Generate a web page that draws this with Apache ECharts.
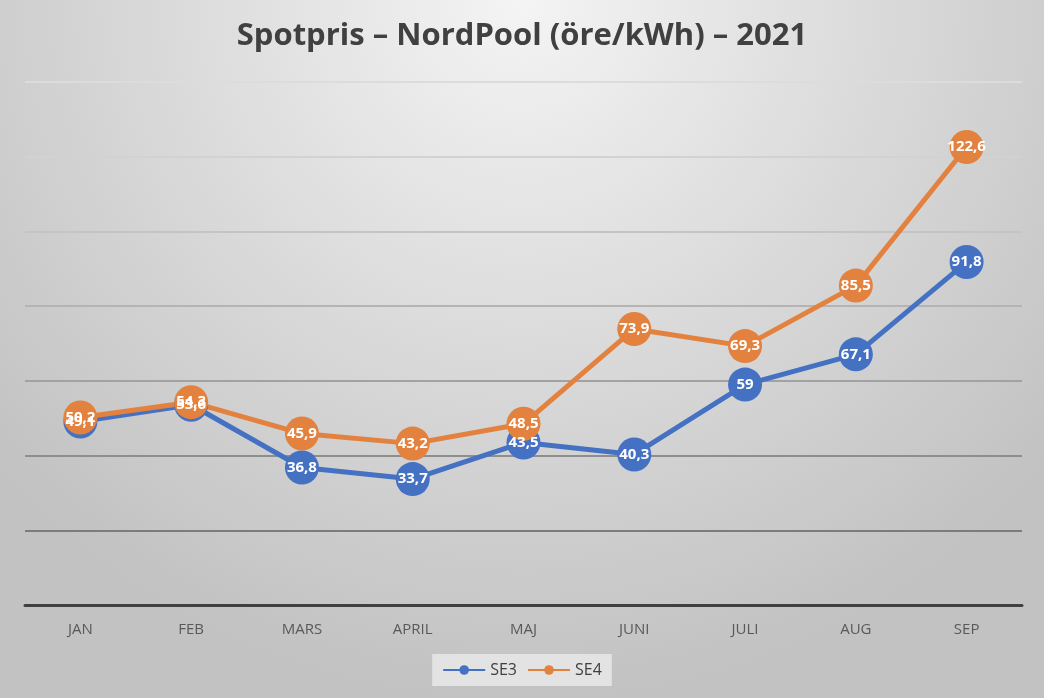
<!DOCTYPE html>
<html><head><meta charset="utf-8">
<script src="https://cdn.jsdelivr.net/npm/echarts@6/dist/echarts.min.js"></script>
<style>html,body{margin:0;padding:0;background:#d0d0d0}#c{width:1044px;height:698px}</style>
</head><body><div id="c"></div>
<script>
const categories = ['JAN','FEB','MARS','APRIL','MAJ','JUNI','JULI','AUG','SEP'];
const se3 = [49.1, 53.6, 36.8, 33.7, 43.5, 40.3, 59, 67.1, 91.8];
const se4 = [50.2, 54.3, 45.9, 43.2, 48.5, 73.9, 69.3, 85.5, 122.6];
const seriesNames = ['SE3','SE4'];
const colors = ['#4571C3','#E3823F'];
const fmt = p => String(p.value).replace('.', ',');
const chart = echarts.init(document.getElementById('c'));
function mk(name, data, color){
  return {name, type:'line', data,
    symbol:'circle', symbolSize:34,
    itemStyle:{color},
    lineStyle:{width:5, color},
    label:{show:true, position:'inside', color:'#fff', fontFamily:'Open Sans', fontWeight:'bold', fontSize:15, formatter:fmt},
    labelLayout:{hideOverlap:false},
    emphasis:{disabled:true}, animation:false};
}
chart.setOption({
  backgroundColor:{type:'radial', x:0.5, y:0.0, r:1.0,
    colorStops:[{offset:0,color:'#f4f4f4'},{offset:0.55,color:'#d8d8d8'},{offset:1,color:'#c2c2c2'}]},
  title:{text:'Spotpris – NordPool (öre/kWh) – 2021', left:'center', top:16,
    textStyle:{fontFamily:'Open Sans', fontWeight:'bold', fontSize:31, color:'#404040'}},
  legend:{data:seriesNames, bottom:12, left:'center', backgroundColor:'#e3e3e3', padding:[8,10],
    itemWidth:42, itemHeight:12, itemGap:10,
    textStyle:{fontFamily:'Open Sans', fontSize:16, color:'#404040'}},
  grid:{left:25, right:22, top:82, bottom:93},
  xAxis:{type:'category', data:categories, boundaryGap:true,
    axisLine:{lineStyle:{color:'#404040', width:3}}, axisTick:{show:false},
    axisLabel:{margin:17, fontFamily:'Open Sans', fontSize:15, color:'#595959'}},
  yAxis:{type:'value', min:0, max:140, interval:20,
    axisLabel:{show:false}, axisLine:{show:false}, axisTick:{show:false},
    splitLine:{lineStyle:{width:2, color:['#404040','#7c7c7c','#8e8e8e','#a2a2a2','#b4b4b4','#c4c4c4','#d2d2d2','#dcdcdc']}}},
  series:[mk(seriesNames[0], se3, colors[0]), mk(seriesNames[1], se4, colors[1])]
});
</script></body></html>
